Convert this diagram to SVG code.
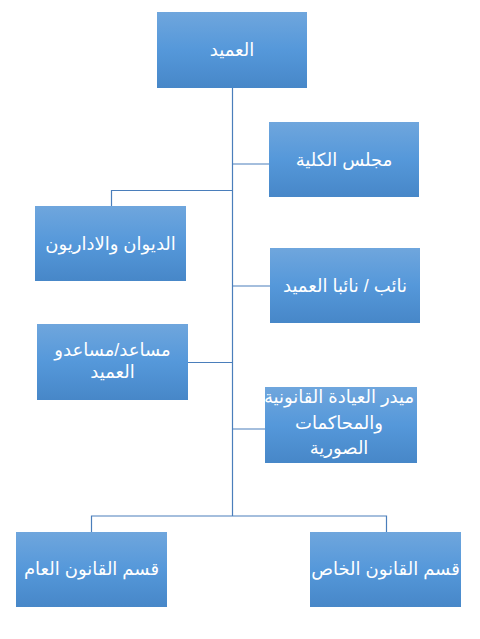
<svg xmlns="http://www.w3.org/2000/svg" width="480" height="639" viewBox="0 0 480 639">
<defs>
<linearGradient id="g" x1="0" y1="0" x2="0" y2="1">
<stop offset="0" stop-color="#6fa6dd"/>
<stop offset="0.5" stop-color="#5598da"/>
<stop offset="1" stop-color="#4787c8"/>
</linearGradient>
</defs>
<style>
.box{fill:url(#g);stroke:none}
.t{font-family:"Liberation Sans","DejaVu Sans",sans-serif;font-size:18px;fill:#ffffff;text-anchor:middle;direction:rtl}
.c{fill:none;stroke:#4a7ebb;stroke-width:1.2}
</style>
<rect width="480" height="639" fill="#ffffff"/>
<g id="connectors">
<path class="c" d="M232.5 88 V516"/>
<path class="c" d="M232.5 164 H269"/>
<path class="c" d="M232.5 190.5 H111.5 V206"/>
<path class="c" d="M232.5 286 H270"/>
<path class="c" d="M232.5 362.5 H188"/>
<path class="c" d="M232.5 429 H265"/>
<path class="c" d="M91.5 532 V516 H386.5 V532"/>
</g>
<g id="dean">
<rect class="box" x="157" y="12" width="150" height="76"/>
<text class="t" x="232" y="56">العميد</text>
</g>
<g id="council">
<rect class="box" x="269" y="122" width="150" height="75"/>
<text class="t" x="344" y="166">مجلس الكلية</text>
</g>
<g id="diwan">
<rect class="box" x="35" y="206" width="151" height="75"/>
<text class="t" x="110.5" y="250">الديوان والاداريون</text>
</g>
<g id="deputy">
<rect class="box" x="270" y="248" width="150" height="75"/>
<text class="t" x="345" y="292">نائب / نائبا العميد</text>
</g>
<g id="assistant">
<rect class="box" x="37" y="324" width="151" height="76"/>
<text class="t" x="112.5" y="356">مساعد/مساعدو</text>
<text class="t" x="112.5" y="378">العميد</text>
</g>
<g id="director">
<rect class="box" x="265" y="387" width="152" height="76"/>
<text class="t" x="339" y="403">ميدر العيادة القانونية</text>
<text class="t" x="339" y="429">والمحاكمات</text>
<text class="t" x="339" y="454">الصورية</text>
</g>
<g id="public">
<rect class="box" x="16" y="532" width="151" height="75"/>
<text class="t" x="91.5" y="575">قسم القانون العام</text>
</g>
<g id="private">
<rect class="box" x="310" y="532" width="151" height="75"/>
<text class="t" x="385.5" y="575">قسم القانون الخاص</text>
</g>
</svg>
